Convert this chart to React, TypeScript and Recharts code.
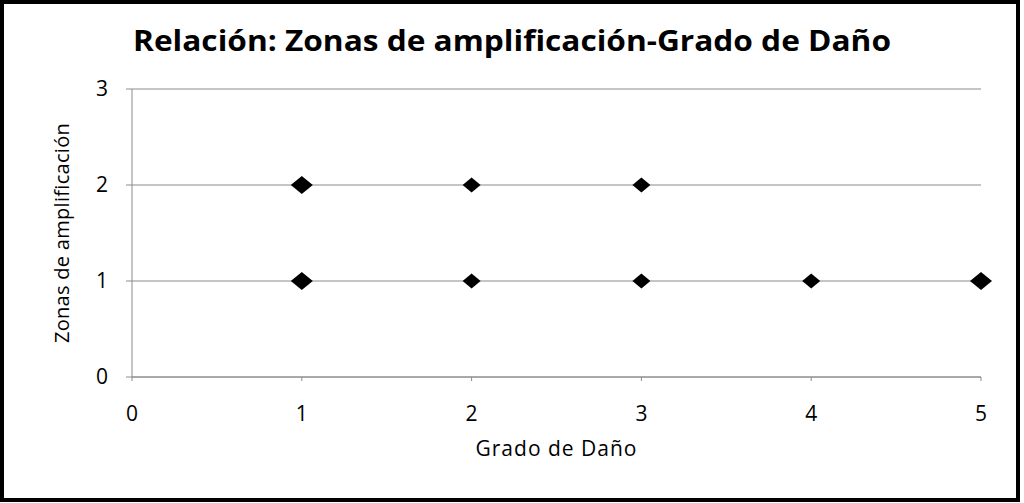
import { CartesianGrid, Scatter, ScatterChart, XAxis, YAxis } from 'recharts';

const grados = [1, 2, 3, 1, 2, 3, 4, 5];
const zonas = [2, 2, 2, 1, 1, 1, 1, 1];
// how many observations fall on the same spot (drawn as a slightly bigger diamond)
const repeticiones = [2, 1, 1, 2, 1, 1, 1, 2];

const xTicks = [0, 1, 2, 3, 4, 5];
const yTicks = [0, 1, 2, 3];

const puntos = grados.map((g, i) => ({ grado: g, zona: zonas[i], n: repeticiones[i] }));

const font = '"Open Sans", sans-serif';
const axisColor = '#8c8c8c';

const Diamond = (props: any) => {
    const { cx, cy, payload } = props;
    const w = payload.n > 1 ? 11 : 9;
    const h = payload.n > 1 ? 9 : 7.5;
    return <path d={`M${cx - w},${cy} L${cx},${cy - h} L${cx + w},${cy} L${cx},${cy + h} Z`} fill="#000" />;
};

export default function App() {
    return (
        <div
            style={{
                position: 'absolute',
                left: 0,
                top: 0,
                width: 1024,
                height: 503,
                background: '#fff',
                fontFamily: font,
            }}
        >
            <div
                style={{
                    position: 'absolute',
                    left: 0,
                    top: 0,
                    width: 1020,
                    height: 502,
                    border: '4px solid #000',
                    boxSizing: 'border-box',
                }}
            />
            <div
                style={{
                    position: 'absolute',
                    top: 22,
                    left: 0,
                    width: 1024,
                    textAlign: 'center',
                    fontSize: 28,
                    fontWeight: 700,
                    color: '#000',
                    lineHeight: '36px',
                    transform: 'scaleX(1.13)',
                }}
            >
                Relación: Zonas de amplificación-Grado de Daño
            </div>
            <ScatterChart width={1024} height={503} margin={{ top: 89, right: 43, bottom: 66, left: 0 }}>
                <CartesianGrid vertical={false} stroke={axisColor} strokeWidth={1.2} />
                <XAxis
                    type="number"
                    dataKey="grado"
                    domain={[0, 5]}
                    ticks={xTicks}
                    height={60}
                    axisLine={{ stroke: axisColor }}
                    tickLine={{ stroke: axisColor }}
                    tickSize={4}
                    tickMargin={25}
                    tick={{ fill: '#000', fontSize: 21, fontFamily: font }}
                    label={{
                        value: 'Grado de Daño',
                        position: 'insideBottom',
                        offset: -19,
                        fill: '#000',
                        fontSize: 21,
                        fontFamily: font,
                        letterSpacing: 1,
                    }}
                />
                <YAxis
                    type="number"
                    dataKey="zona"
                    domain={[0, 3]}
                    ticks={yTicks}
                    width={132}
                    axisLine={{ stroke: axisColor }}
                    tickLine={{ stroke: axisColor }}
                    tickSize={6}
                    tickMargin={18}
                    tick={{ fill: '#000', fontSize: 21, fontFamily: font }}
                    label={{
                        value: 'Zonas de amplificación',
                        angle: -90,
                        position: 'insideLeft',
                        offset: 62,
                        fill: '#000',
                        fontSize: 20,
                        fontFamily: font,
                        letterSpacing: 0.3,
                        style: { textAnchor: 'middle' },
                    }}
                />
                <Scatter data={puntos} shape={<Diamond />} isAnimationActive={false} />
            </ScatterChart>
        </div>
    );
}
